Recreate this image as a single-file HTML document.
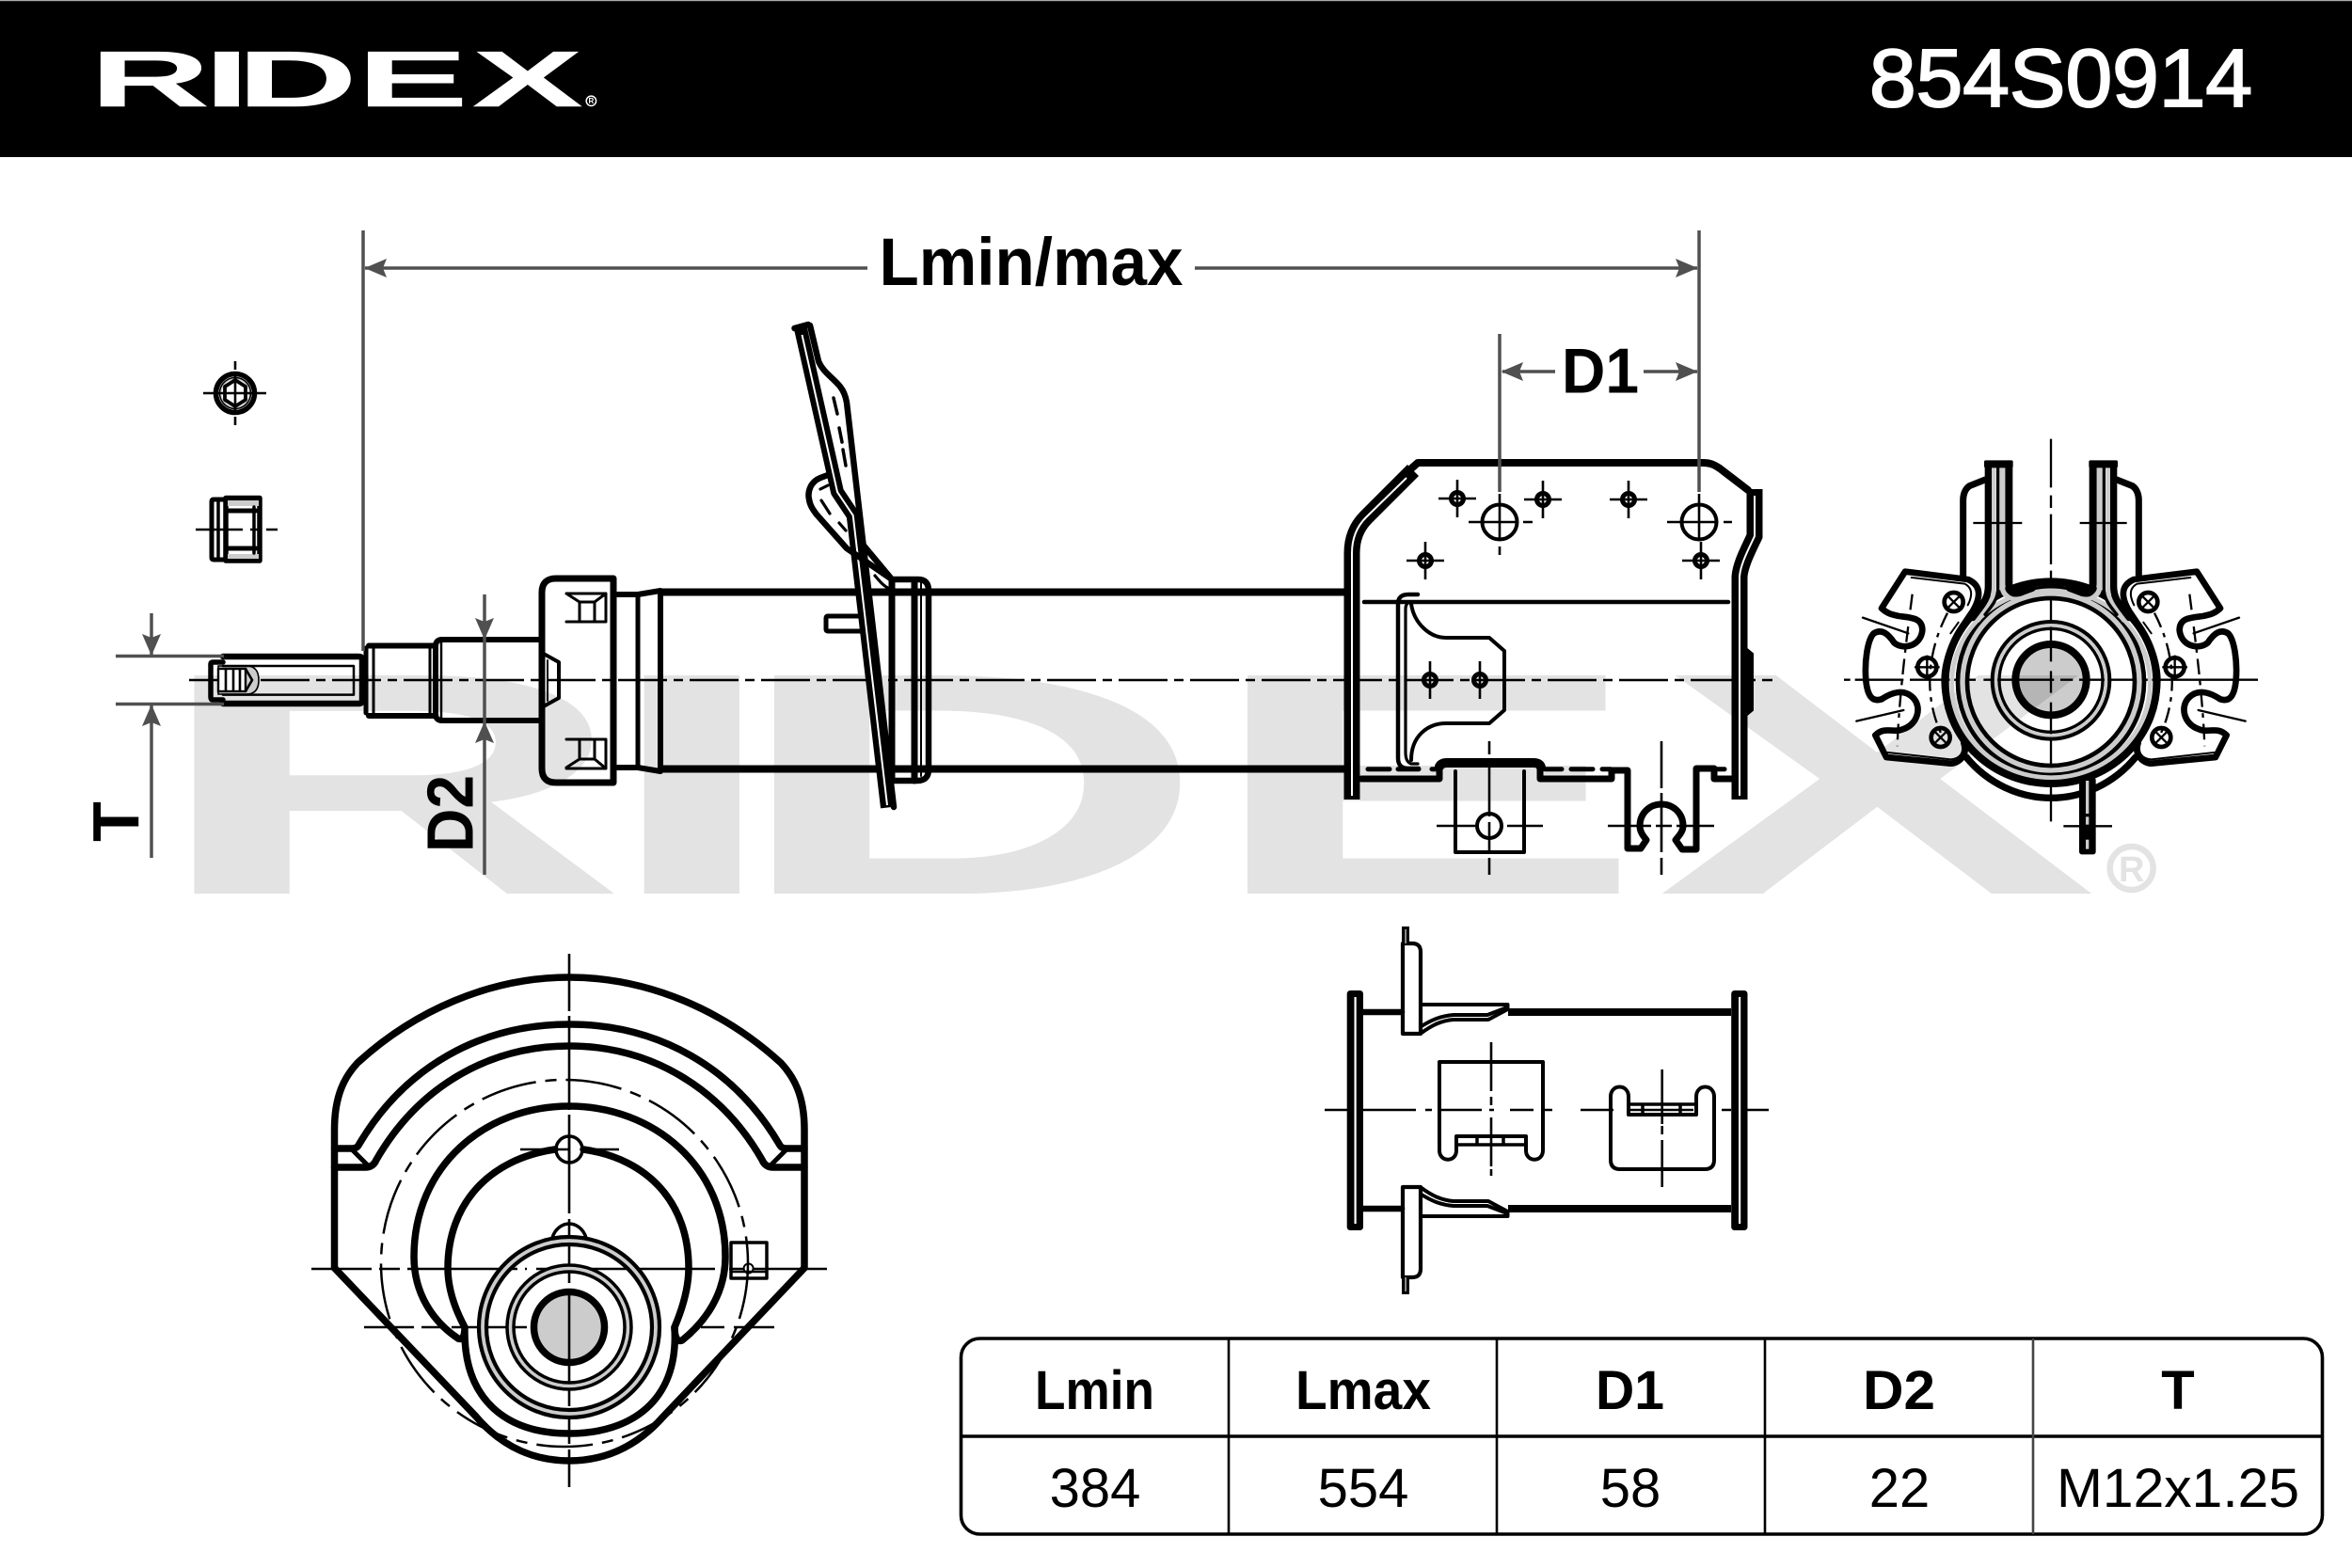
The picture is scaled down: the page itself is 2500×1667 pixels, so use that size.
<!DOCTYPE html>
<html lang="en"><head><meta charset="utf-8"><title>RIDEX 854S0914</title>
<style>
html,body{margin:0;padding:0;background:#fff}
svg{display:block}
text{font-family:"Liberation Sans",sans-serif}
.k{fill:none;stroke:#000;stroke-linejoin:round;stroke-linecap:round}
.c{fill:none;stroke:#000;stroke-width:2.6}
.cd{fill:none;stroke:#000;stroke-width:2.6;stroke-dasharray:52 7 10 7}
.d{fill:none;stroke:#505050;stroke-width:3.5}
.a{fill:#505050}
.g{fill:none;stroke:#ccc}
.gm{mix-blend-mode:multiply}
.b{font-weight:700}
</style></head><body>
<svg xmlns="http://www.w3.org/2000/svg" width="2500" height="1667" viewBox="0 0 2500 1667">
<rect width="2500" height="1667" fill="#fff"/>

<!-- watermark -->
<g fill="#e3e3e3">
<g transform="translate(209 717.5) scale(3.94 3.97) translate(-107.5 -54.7)">
<g transform="translate(0 113.3) scale(2.1 1)"><text class="b" font-size="85" x="45.2 103 119.7 180.5 238.7" y="0">RIDEX</text></g>
</g>
<circle cx="2265.7" cy="923" r="23" fill="none" stroke="#e3e3e3" stroke-width="6.5"/>
<text class="b" font-size="38" x="2265.7" y="937" text-anchor="middle">R</text>
</g>

<!-- header -->
<rect x="0" y="0" width="2500" height="167" fill="#000"/>
<rect x="0" y="0" width="2500" height="1.2" fill="#aaa"/>
<g fill="#fff">
<g transform="translate(0 113.3) scale(2.1 1)"><text class="b" font-size="85" x="45.2 103 119.7 180.5 238.7" y="0">RIDEX</text></g>
<circle cx="628.4" cy="107.3" r="5.2" fill="none" stroke="#fff" stroke-width="1.5"/>
<text class="b" font-size="8" x="628.4" y="110.2" text-anchor="middle">R</text>
<text x="1987" y="113" font-size="87" textLength="407" lengthAdjust="spacingAndGlyphs" stroke="#fff" stroke-width="2">854S0914</text>
</g>

<!-- main centre line -->
<path class="cd" d="M201 723H1884"/>

<!-- nuts -->
<g>
<circle cx="250" cy="418" r="20.5" class="k" stroke-width="5.5"/>
<circle cx="250" cy="418" r="16" class="g" stroke-width="3"/>
<circle cx="250" cy="418" r="16.5" class="k" stroke-width="1.5"/>
<path class="k" stroke-width="3.8" d="M250 404L261 411V425L250 432L239 425V411Z"/>
<path class="c" d="M216 418H283M250 384V393M250 399V437M250 443V452"/>
<path class="k" stroke-width="5" d="M240 531H227Q225 531 225 533V593Q225 595 227 595H240"/>
<path class="k" stroke-width="5.5" d="M240 529.5H276V596H240Z"/>
<rect x="242" y="532" width="33" height="6" fill="#ccc"/><rect x="242" y="589" width="33" height="5" fill="#ccc"/>
<path class="k" stroke-width="3.5" d="M232 534V592M240 529V596M270 539V588"/>
<path class="k" stroke-width="5" d="M240 543H272M240 583H272"/>
<path class="c" d="M208 563H258M266 563H276M283 563H295"/>
</g>

<!-- rod -->
<path d="M232 708H262Q275 708 275 723Q275 738 262 738H232Z" fill="#ccc" stroke="#000" stroke-width="1.6"/>
<rect x="232" y="711" width="29" height="24" fill="#fff" stroke="#000" stroke-width="2.4"/>
<path class="c" d="M240 711V735M248 711V735M255 711V735M261 711L268 723L261 735"/>
<path class="k" stroke-width="5.5" d="M237 704H226Q224 704 224 706V741Q224 744 226 744H237"/>
<path class="k" stroke-width="6.5" d="M237 698H381Q385 698 385 701V745Q385 748 381 748H237"/>
<path class="k" stroke-width="2.5" d="M237 708H376V738.6H237"/>
<path class="k" stroke-width="6" d="M392 686.5H462M392 761H462"/>
<path class="k" stroke-width="5" d="M389 689V758"/>
<path class="k" stroke-width="3" d="M397 688V760M457 686V761"/>
<path class="k" stroke-width="6" d="M574 680H470Q463 680 463 687V759Q463 766 470 766H574"/>
<path class="k" stroke-width="2.5" d="M469 682V764"/>
<path class="k" stroke-width="7" d="M652 615H591Q576 615 576 630V817Q576 832 591 832H652Z"/>
<path class="k" stroke-width="3" d="M602 631L616 640V661M644 631V661H602M644 631H602M644 631L632 640V661M616 640H632"/>
<path class="k" stroke-width="3" d="M602 816L616 807V786M644 817V786H602M644 817H602M644 817L632 807V786M616 807H632"/>
<path class="k" stroke-width="4" d="M576 694L594 704V742L576 752"/>
<path class="k" stroke-width="2" d="M582 702V745"/>
<path class="k" stroke-width="6" d="M652 632H678L702 628M652 816H678L702 820"/>
<path class="k" stroke-width="5" d="M678 632V816"/>
<path class="k" stroke-width="6" d="M702 630V818"/>
<path d="M702 629.5H1429M702 817.5H1429" stroke="#000" stroke-width="8" fill="none"/>

<!-- spring plate -->
<path d="M850.5 347L890 523L906.7 548L943 858.6" fill="none" stroke="#000" stroke-width="14" stroke-linejoin="round"/>
<path class="k" stroke-width="6.5" d="M844.5 349L859 345"/>
<path d="M852.5 356L890 523L906.7 548L943 856" fill="none" stroke="#fff" stroke-width="2"/>
<path class="k" stroke-width="6.5" d="M861 346L870 384C875 396 886 402 893 411C897 416 899 422 900 428L950 858"/>
<path class="k" stroke-width="3.5" d="M886 423L890 440M892 455L895 470M896 478L899 495"/>
<path class="k" stroke-width="6.5" d="M880 505L872 508C862 512 858 522 860 531C861 538 865 543 868 547L900 583L948 616"/>
<path class="k" stroke-width="6.5" d="M918 580L948 616H976Q987 616 987 628V818Q987 830 975 830H947"/>
<path class="k" stroke-width="3.2" d="M872 520L880 516M873 532L882 546M892 556L899 564M930 612C935 618 940 624 946 626M956 628H970M953 819H972"/>
<path class="k" stroke-width="7" d="M948 618V830M972 618V830"/>
<path class="k" stroke-width="2" d="M979 620V825"/>
<path class="k" stroke-width="5" d="M915 655H880Q878 655 878 657V669Q878 671 880 671H915"/>

<!-- bracket -->
<path d="M1437 850V588C1437 570 1444 558 1452 550L1502 500" fill="none" stroke="#000" stroke-width="17"/>
<path d="M1437 846V588C1437 570 1444 558 1452 550L1495 508" fill="none" stroke="#fff" stroke-width="2"/>
<path class="k" stroke-width="8" d="M1498 500L1507 492H1810C1818 492 1822 494 1828 498L1858 521"/>
<path d="M1849 850V613C1850 600 1858 585 1865 570V520" fill="none" stroke="#000" stroke-width="17"/>
<path d="M1849 846V613C1850 600 1858 585 1865 570V527" fill="none" stroke="#fff" stroke-width="2"/>
<path d="M1857 690L1863 695V755L1857 760Z" fill="#000" stroke="#000" stroke-width="2"/>
<path class="k" stroke-width="4.5" d="M1450 640H1837"/>
<path class="k" stroke-width="4.5" d="M1507 632H1497Q1486 632 1486 642V806Q1486 817 1497 817H1508"/>
<path class="k" stroke-width="3.2" d="M1507 640H1500Q1494 640 1494 648V800Q1494 810 1500 812H1507"/>
<path class="k" stroke-width="4" d="M1500 642C1503 663 1520 678 1537 678H1583L1599 692V755L1583 769H1537C1517 769 1500 783 1500 808"/>
<path class="k" stroke-width="5" d="M1454 817.7H1477M1486 817.7H1508M1522 817.7H1530M1642 817.7H1660M1670 817.7H1693M1703 817.7H1712M1823 817.7H1833"/>
<path class="k" stroke-width="7" d="M1447 828H1530V819"/>
<path class="k" stroke-width="10" d="M1530 815Q1532 811 1538 811H1630Q1637 811 1638 816"/>
<path class="k" stroke-width="7" d="M1637 818V828H1713V819H1730V902H1744L1750 893C1746 888 1743 884 1743 878C1743 865 1753 855 1766 855C1779 855 1789 865 1789 878C1789 884 1785 888 1781 893L1788 903H1803V817H1822V828H1842"/>
<path class="k" stroke-width="4" d="M1547 820V906H1620V820"/>
<circle cx="1583" cy="878" r="13" class="k" stroke-width="4"/>
<path class="c" d="M1583 788V802M1583 808V868M1583 874V906M1583 912V930M1527 878H1568M1602 878H1640M1766 788V838M1766 843V906M1766 912V930M1709 878H1755M1760 878H1777M1782 878H1822"/>
<g id="holes">
<circle cx="1549" cy="530" r="6.5" class="k" stroke-width="5"/><path class="c" d="M1529 530H1569M1549 510V550"/>
<circle cx="1640" cy="531" r="6.5" class="k" stroke-width="5"/><path class="c" d="M1620 531H1660M1640 511V551"/>
<circle cx="1731" cy="531" r="6.5" class="k" stroke-width="5"/><path class="c" d="M1711 531H1751M1731 511V551"/>
<circle cx="1515" cy="596" r="6.5" class="k" stroke-width="5"/><path class="c" d="M1495 596H1535M1515 576V616"/>
<circle cx="1808" cy="596" r="6.5" class="k" stroke-width="5"/><path class="c" d="M1788 596H1828M1808 576V616"/>
<circle cx="1520" cy="723" r="6.5" class="k" stroke-width="5"/><path class="c" d="M1520 703V743"/>
<circle cx="1573" cy="723" r="6.5" class="k" stroke-width="5"/><path class="c" d="M1573 703V743"/>
</g>
<circle cx="1594" cy="555" r="18.5" class="k" stroke-width="4"/>
<circle cx="1806" cy="555" r="18.5" class="k" stroke-width="4"/>
<path class="c" d="M1561 555H1612M1619 555H1629M1594 525V575M1594 581V590M1772 555H1824M1832 555H1841M1806 525V575"/>

<!-- right end view, in zoom coordinates -->
<g transform="translate(1950 460) scale(.33333)">
<path class="c" style="stroke-width:7" d="M690 20V175M690 200V240M690 260V420M690 440V730M690 760V830M690 860V1100M690 1130V1240"/>
<path class="c" style="stroke-width:7" d="M30 788H50M65 788H220M240 788H450M475 788H700M720 788H760M780 788H1350"/>
<circle cx="690" cy="788" r="113" fill="#ccc" class="gm"/>
<circle cx="690" cy="788" r="113" class="k" stroke-width="24"/>
<circle cx="690" cy="790" r="176" class="g" stroke-width="10"/>
<circle cx="690" cy="790" r="187" class="k" stroke-width="12"/>
<circle cx="690" cy="790" r="165" class="k" stroke-width="10"/>
<circle cx="690" cy="795" r="282" class="g" stroke-width="18"/>
<circle cx="690" cy="795" r="267" class="k" stroke-width="14"/>
<circle cx="690" cy="795" r="297" class="k" stroke-width="14"/>
<ellipse cx="690" cy="800" rx="316" ry="300" class="g" stroke-width="14"/>
<ellipse cx="690" cy="797" rx="337" ry="322" class="k" stroke-width="24"/>
<path class="k" stroke-width="22" d="M420 1035C490 1120 590 1165 690 1165C790 1165 890 1120 960 1035"/>
<g id="arm">
<path class="k" stroke-width="21" d="M480 150L430 170C415 180 410 200 410 215V455"/>
<path class="g" stroke-width="16" d="M507 110V510C507 535 480 570 455 600M535 110V490C535 520 560 530 590 530L640 515"/>
<path class="k" stroke-width="22" d="M490 100V490C490 530 470 550 440 590"/>
<path class="k" stroke-width="24" d="M556 100V480C556 510 570 515 590 510L630 495"/>
<path class="k" stroke-width="10" d="M521 110V500C521 530 500 555 480 580"/>
<rect x="477" y="88" width="92" height="24" rx="5" fill="#000"/>
<path id="ear" class="k" stroke-width="20" d="M225 443L425 468C465 485 470 520 440 570C405 620 350 700 350 790C350 860 380 930 410 980C430 1020 400 1055 370 1055L165 1035L130 965C160 935 190 960 220 945C265 930 280 875 250 845C220 815 180 830 150 850C120 860 105 840 100 790C95 730 105 660 125 640C150 625 170 640 190 670C220 695 275 680 280 630C280 590 245 590 205 585C180 580 165 575 150 560Z"/>
<path class="k" stroke-width="6" d="M245 462L415 482C440 495 440 520 425 550M170 1020L370 1042C400 1040 415 1020 405 990M370 640L395 605"/>
<path class="c" style="stroke-width:7;stroke-dasharray:50 20 14 20" d="M248 515C225 690 205 860 200 1000"/>
<path class="c" style="stroke-width:7;stroke-dasharray:50 20 14 20" d="M360 575C300 690 280 830 340 960"/>
<path class="k" stroke-width="7" d="M90 590L235 640M70 920L220 885"/>
<circle cx="380" cy="540" r="30" class="k" stroke-width="14"/><path class="c" style="stroke-width:7" d="M358 518L402 562M402 518L358 562"/>
<circle cx="295" cy="748" r="30" class="k" stroke-width="14"/><path class="c" style="stroke-width:7" d="M255 748H335M295 710V788"/>
<circle cx="338" cy="972" r="30" class="k" stroke-width="14"/><path class="c" style="stroke-width:7" d="M316 950L360 994M360 950L316 994"/>
</g>
<use href="#arm" transform="translate(1380 0) scale(-1 1)"/>
<path class="k" stroke-width="10" d="M630 498Q690 485 750 498"/>
<rect x="780" y="1100" width="53" height="245" rx="8" fill="#000"/>
<rect x="801" y="1110" width="10" height="105" fill="#ccc"/><rect x="801" y="1225" width="10" height="25" fill="#ccc"/><rect x="801" y="1298" width="10" height="30" fill="#ccc"/>
<path class="c" style="stroke-width:7" d="M442 288H598M782 288H932M730 1255H885"/>
</g>

<!-- bottom-left top view -->
<g>
<path class="c" d="M605 1014V1075M605 1080V1180M605 1185V1290M605 1296V1364M605 1370V1440M605 1450V1495M605 1505V1535M605 1541V1581"/>
<path class="c" d="M331 1349H395M403 1349H425M433 1349H550M558 1349H560M570 1349H760M775 1349H790M800 1349H855M855 1349H879"/>
<path class="c" d="M387 1411H440M448 1411H470M480 1411H560M745 1411H770M780 1411H823"/>
<path class="k" stroke-width="7.5" d="M355.5 1348V1201C355.5 1165 366 1145 380 1130C440 1075 520 1039 605 1039C690 1039 770 1075 830 1130C844 1145 855 1165 855 1201V1348L705 1506C675 1540 640 1553 605 1553C570 1553 535 1540 506 1506Z"/>
<path class="k" stroke-width="7.5" d="M355.5 1221H373C378 1221 380 1220 382 1216C430 1135 510 1089 605 1089C700 1089 780 1135 828 1216C830 1220 832 1221 837 1221H855"/>
<path class="k" stroke-width="7.5" d="M355.5 1241H388C394 1241 398 1238 400 1233C445 1155 520 1112 605 1112C690 1112 765 1155 810 1233C812 1238 816 1241 822 1241H855"/>
<path class="k" stroke-width="5" d="M373 1221L390 1238M837 1221L820 1238"/>
<ellipse cx="600" cy="1343" rx="195" ry="195" fill="none" stroke="#000" stroke-width="2.5" stroke-dasharray="60 10 12 10"/>
<path class="k" stroke-width="7.5" d="M487 1423C460 1405 440 1375 440 1336C440 1240 515 1176 605 1176C695 1176 771 1240 771 1336C771 1375 750 1405 725 1425C720 1427 717 1422 717 1411"/>
<path class="k" stroke-width="7.5" d="M487 1423C492 1425 494 1420 494 1411C480 1385 476 1365 476 1348C476 1280 520 1232 590 1222M620 1222C690 1232 732 1280 732 1348C732 1365 728 1385 717 1411C722 1490 670 1524 605 1524C540 1524 492 1490 494 1411"/>
<circle cx="605" cy="1222" r="14" class="k" stroke-width="3.5" fill="#fff"/>
<path class="c" d="M553 1222H591M619 1222H658M605 1208V1236M591 1222H605"/>
<path class="k" stroke-width="3.5" d="M587 1316C590 1306 598 1301 605 1301C612 1301 620 1306 623 1316"/>
<circle cx="605" cy="1411" r="92" class="g" stroke-width="8"/>
<circle cx="605" cy="1411" r="96" class="k" stroke-width="4.2"/>
<circle cx="605" cy="1411" r="88" class="k" stroke-width="4.2"/>
<circle cx="605" cy="1411" r="62.5" class="g" stroke-width="5"/>
<circle cx="605" cy="1411" r="66" class="k" stroke-width="3.5"/>
<circle cx="605" cy="1411" r="59" class="k" stroke-width="3.5"/>
<circle cx="605" cy="1411" r="37.5" fill="#ccc" stroke="#000" stroke-width="7.5"/>
<path class="c" d="M605 1370V1450"/>
<rect x="777" y="1321" width="38" height="38" class="k" stroke-width="3.5"/>
<path class="c" d="M777 1352H815"/>
<circle cx="795.6" cy="1348.5" r="5" class="k" stroke-width="2"/>
</g>

<!-- middle view -->
<g>
<path class="c" d="M1408 1180H1505M1515 1180H1522M1530 1180H1575M1583 1180H1588M1605 1180H1630M1640 1180H1650M1680 1180H1715M1730 1180H1800M1830 1180H1840M1852 1180H1880"/>
<g id="fl">
<rect x="1431.7" y="1053" width="17.3" height="255" rx="3.5" fill="#000"/>
<rect x="1439.5" y="1060" width="2.2" height="241" fill="#fff"/>
</g>
<use href="#fl" transform="translate(408.5 0)"/>
<g id="mtop">
<path class="k" stroke-width="6.5" d="M1449 1076H1490"/>
<path d="M1603 1076H1840" stroke="#000" stroke-width="8" fill="none"/>
<path class="k" stroke-width="4.2" d="M1491 1099V1003H1501Q1510 1003 1510 1012V1099H1491"/>
<rect x="1490" y="985" width="8" height="19" fill="#000"/><rect x="1493.3" y="988" width="1.6" height="15" fill="#aaa"/>
<path class="k" stroke-width="4" d="M1511 1068H1602.5V1073L1582 1084H1545C1532 1085 1522 1090 1511 1098"/>
<path class="k" stroke-width="4" d="M1511 1091C1522 1084 1532 1080 1545 1079H1581L1602 1071"/>
</g>
<use href="#mtop" transform="translate(0 2361) scale(1 -1)"/>
<path class="k" stroke-width="4" d="M1530 1129H1640V1223C1640 1236 1622 1236 1622 1223V1208H1548V1223C1548 1236 1530 1236 1530 1223Z"/>
<path class="k" stroke-width="3.5" d="M1548 1217H1622M1570 1208V1217M1598 1208V1217"/>
<path class="k" stroke-width="4" d="M1712 1233V1166C1712 1152 1731 1152 1731 1166V1185H1803V1166C1803 1152 1822 1152 1822 1166V1233Q1822 1243 1812 1243H1722Q1712 1243 1712 1233Z"/>
<path class="k" stroke-width="3.5" d="M1731 1174H1803M1746 1174V1185M1786 1174V1185"/>
<path class="c" d="M1585 1108V1160M1585 1166V1175M1585 1188V1240M1585 1243V1250M1766.7 1137V1195M1766.7 1197V1206M1766.7 1212V1262"/>
</g>

<!-- dimensions -->
<g>
<path class="d" d="M386 245V692M1806 245V523M1594 355V523"/>
<path class="d" d="M388 285H922M1270 285H1804M1597 395H1653M1747 395H1804"/>
<path class="a" d="M387.5 285L411 275L407 285L411 295Z"/>
<path class="a" d="M1804.5 285L1781 275L1785 285L1781 295Z"/>
<path class="a" d="M1595.5 395L1619 385L1615 395L1619 405Z"/>
<path class="a" d="M1804.5 395L1781 385L1785 395L1781 405Z"/>
<path class="d" d="M161 652V697M161 749V912M123 697.5H238M123 748.5H238"/>
<path class="a" d="M161 697L151 674L161 678L171 674Z"/>
<path class="a" d="M161 749L151 772L161 768L171 772Z"/>
<path class="d" d="M515 632V767"/><path class="d" d="M515 767V930"/>
<path class="a" d="M515 680L505 657L515 661L525 657Z"/>
<path class="a" d="M515 767L505 790L515 786L525 790Z"/>
<text class="b" x="934.5" y="303" font-size="71" textLength="323" lengthAdjust="spacingAndGlyphs">Lmin/max</text>
<text class="b" x="1660" y="417.5" font-size="68" textLength="82" lengthAdjust="spacingAndGlyphs">D1</text>
<text class="b" transform="translate(502.6 906) rotate(-90)" x="0" y="0" font-size="70" textLength="82" lengthAdjust="spacingAndGlyphs">D2</text>
<text class="b" transform="translate(147 873.5) rotate(-90)" x="0" y="0" font-size="70" text-anchor="middle">T</text>
</g>

<!-- table -->
<g>
<rect x="1021.5" y="1423" width="1447" height="208" rx="20" fill="#fff" fill-opacity="0" stroke="#000" stroke-width="3.6"/>
<path d="M1021 1527H2468" stroke="#000" stroke-width="3.6"/>
<path d="M1306 1423V1631M1591 1423V1631M1876 1423V1631" stroke="#000" stroke-width="2.6"/>
<path d="M2161 1423V1631" stroke="#444" stroke-width="2.6"/>
<g font-size="58">
<text class="b" x="1100" y="1498" textLength="127" lengthAdjust="spacingAndGlyphs">Lmin</text>
<text class="b" x="1377" y="1498" textLength="144" lengthAdjust="spacingAndGlyphs">Lmax</text>
<text class="b" x="1696" y="1498" textLength="73" lengthAdjust="spacingAndGlyphs">D1</text>
<text class="b" x="1980" y="1498" textLength="77" lengthAdjust="spacingAndGlyphs">D2</text>
<text class="b" x="2315" y="1498" text-anchor="middle">T</text>
<text x="1164" y="1602" text-anchor="middle">384</text>
<text x="1449" y="1602" text-anchor="middle">554</text>
<text x="1733" y="1602" text-anchor="middle">58</text>
<text x="2019" y="1602" text-anchor="middle">22</text>
<text x="2186" y="1602" textLength="258" lengthAdjust="spacingAndGlyphs">M12x1.25</text>
</g>
</g>
</svg>
</body></html>
